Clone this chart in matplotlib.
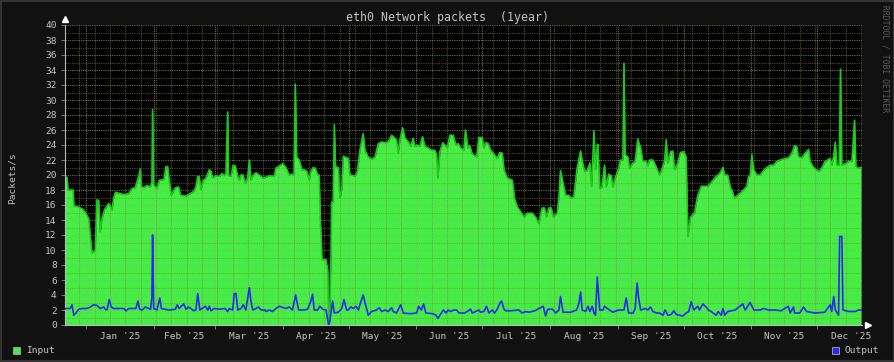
import numpy as np
import pandas as pd
import matplotlib
matplotlib.use("Agg")
import matplotlib.pyplot as plt
import matplotlib.dates as mdates
from matplotlib.patches import Rectangle
from matplotlib.ticker import MultipleLocator, NullFormatter

# time axis: one year ending 2025-12-21, values keyed by day offset from start
start = pd.Timestamp("2024-12-22 12:00")
span_days = 364

input_days = [0.1, 0.9, 1.4, 3.7, 4.1, 5.5, 7.8, 9.3, 10.8, 11.6, 12.3, 13.8, 14.6, 15.4, 16.1,
              16.9, 18.1, 20.0, 21.5, 22.2, 23.0, 26.8, 29.1, 30.6, 32.1, 32.9, 33.7, 34.4, 34.8,
              35.9, 37.4, 38.9, 39.7, 40.0, 40.5, 42.0, 43.1, 45.2, 46.1, 46.9, 47.6, 48.5, 50.4,
              51.9, 52.8, 55.3, 58.8, 59.8, 60.6, 61.3, 62.1, 63.2, 64.4, 65.9, 66.7, 67.4, 68.9,
              70.5, 71.7, 72.7, 73.5, 74.3, 74.7, 75.8, 76.8, 77.8, 78.9, 79.6, 80.4, 81.3, 82.3,
              83.4, 84.2, 84.9, 86.0, 87.2, 88.7, 90.3, 91.8, 93.3, 95.6, 96.3, 97.9, 99.4, 100.9,
              102.4, 103.7, 104.6, 105.2, 105.8, 107.0, 108.2, 109.3, 110.4, 111.6, 112.3, 113.4,
              114.3, 115.4, 116.1, 116.6, 117.4, 119.2, 120.0, 120.4, 120.8, 121.5, 121.8, 122.5,
              123.0, 123.6, 124.8, 125.6, 126.4, 127.1, 129.4, 130.1, 130.9, 132.4, 133.5, 134.7,
              136.2, 137.0, 138.5, 140.0, 141.6, 143.1, 144.6, 146.1, 147.6, 149.2, 150.7, 151.4,
              152.2, 153.0, 154.2, 155.3, 156.8, 157.9, 159.0, 159.8, 160.9, 162.1, 163.3, 164.4,
              165.9, 167.4, 168.9, 169.7, 170.3, 171.2, 172.5, 173.5, 174.6, 175.8, 177.3, 178.5,
              179.6, 180.7, 182.2, 182.9, 184.0, 184.9, 186.0, 188.0, 189.0, 190.5, 191.3, 192.1,
              193.2, 194.4, 195.9, 197.4, 198.6, 199.7, 200.5, 202.0, 204.3, 205.3, 206.5, 208.1,
              209.6, 211.1, 213.4, 214.9, 216.4, 217.9, 219.0, 219.9, 221.0, 222.1, 223.0, 224.8,
              225.6, 226.3, 227.5, 228.6, 230.1, 230.9, 232.4, 233.9, 235.5, 236.2, 237.3, 238.5,
              239.7, 240.5, 241.6, 242.3, 243.1, 243.4, 244.2, 245.2, 246.4, 247.2, 248.3, 249.5,
              250.2, 251.3, 252.8, 253.7, 254.8, 255.3, 255.8, 257.1, 257.8, 259.4, 260.4, 261.6,
              262.9, 263.9, 265.4, 266.2, 267.0, 268.5, 270.0, 271.5, 272.3, 273.8, 274.6, 275.3,
              276.6, 277.6, 278.4, 279.9, 281.1, 282.6, 283.7, 284.5, 285.7, 287.5, 289.0, 290.6,
              293.6, 294.9, 295.9, 297.4, 299.0, 300.5, 301.3, 302.7, 304.0, 304.6, 305.8, 306.8,
              308.4, 309.9, 311.4, 312.2, 312.9, 313.7, 314.5, 316.0, 317.5, 319.0, 320.5, 322.1,
              323.6, 325.1, 326.6, 328.9, 330.4, 332.0, 333.2, 334.2, 335.0, 336.5, 338.0, 339.6,
              340.3, 341.9, 343.4, 344.5, 345.7, 347.2, 348.8, 349.5, 350.2, 351.0, 351.8, 352.5,
              353.6, 354.2, 354.8, 356.3, 357.9, 359.4, 360.6, 361.2, 362.1, 363.6]
input_vals = [19.7, 19.7, 18.0, 18.0, 15.8, 15.8, 15.5, 15.0, 14.2, 11.8, 9.6, 9.9, 16.7, 16.6, 12.4,
              14.2, 15.4, 16.2, 15.3, 16.9, 17.7, 17.4, 17.5, 18.2, 18.3, 19.1, 19.8, 20.8, 18.5,
              18.3, 18.6, 18.4, 19.0, 28.7, 18.7, 18.2, 19.3, 19.4, 21.1, 21.1, 19.3, 17.3, 18.3,
              18.4, 17.3, 17.2, 17.8, 18.4, 19.8, 19.8, 18.0, 19.3, 19.6, 20.7, 20.5, 19.6, 19.9,
              19.8, 20.2, 19.9, 20.2, 28.4, 19.9, 19.8, 21.3, 21.2, 19.8, 19.3, 20.0, 20.0, 18.9,
              19.6, 22.0, 19.3, 20.0, 20.3, 20.0, 19.6, 19.7, 19.9, 19.8, 20.9, 21.2, 21.5, 21.0,
              20.0, 20.1, 20.0, 32.1, 22.4, 22.0, 20.7, 20.7, 20.5, 19.3, 20.5, 21.0,
              20.9, 20.0, 20.0, 14.2, 8.7, 8.7, 7.3, 0.0, 0.0, 9.3, 16.4, 16.4,
              26.7, 21.1, 21.0, 16.9, 18.0, 22.5, 22.2, 20.0, 20.0, 19.8, 20.4, 23.3,
              25.5, 23.3, 22.4, 22.1, 22.4, 24.2, 24.4, 24.3, 24.4, 25.3, 24.9, 24.7,
              22.9, 24.7, 26.3, 24.9, 24.4, 23.8, 24.9, 23.8, 24.0, 23.8, 25.1, 23.8,
              23.6, 23.3, 23.3, 22.7, 19.6, 23.1, 24.3, 24.0, 23.6, 25.3, 25.3, 24.0,
              24.2, 23.6, 23.3, 26.0, 23.6, 23.9, 22.8, 22.4, 25.0, 25.0, 23.6, 24.3,
              24.2, 23.3, 22.8, 22.2, 23.0, 22.9, 20.7, 19.6, 19.3, 16.9, 15.8, 15.1,
              14.4, 14.9, 14.9, 14.4, 13.5, 15.6, 15.6, 14.4, 15.6, 15.6, 14.4, 14.9,
              17.1, 20.6, 18.9, 17.3, 17.3, 16.9, 17.1, 20.9, 23.2, 21.9, 20.5, 20.6,
              21.6, 18.4, 25.9, 20.7, 24.0, 24.1, 18.2, 18.4, 21.3, 18.4, 20.1, 19.9,
              18.4, 19.6, 20.8, 22.0, 22.0, 34.9, 22.7, 22.4, 20.9, 21.6, 21.8, 24.8,
              23.6, 21.8, 21.8, 21.2, 22.0, 22.0, 21.1, 20.0, 20.5, 21.8, 24.7, 21.6,
              23.1, 23.2, 20.7, 21.6, 23.0, 23.1, 22.4, 11.8, 14.4, 14.9, 17.3, 18.5,
              18.5, 18.9, 19.3, 19.8, 20.2, 21.0, 20.0, 20.0, 18.2, 18.0, 16.9, 17.2,
              17.6, 18.0, 18.5, 19.8, 19.8, 22.7, 20.7, 20.0, 20.0, 20.6, 21.0, 21.3,
              21.3, 21.8, 22.0, 22.2, 22.3, 22.9, 23.9, 23.8, 22.4, 22.3, 22.9, 23.4,
              21.8, 21.0, 20.6, 20.5, 21.0, 21.8, 22.1, 22.2, 21.3, 22.4, 24.4, 21.3,
              21.3, 34.1, 21.3, 21.5, 21.8, 21.8, 27.3, 21.1, 20.9, 21.0]

output_days = [0.1, 2.4, 3.2, 4.0, 5.0, 6.3, 7.8, 10.0, 11.6, 13.1, 14.6, 16.1, 17.7, 18.4, 19.2,
               20.2, 21.1, 22.2, 26.8, 27.9, 29.1, 32.4, 33.3, 34.1, 35.2, 36.7, 39.1, 39.7, 40.0,
               40.5, 42.0, 43.3, 44.0, 47.4, 50.4, 51.3, 52.1, 54.2, 55.3, 56.5, 58.8, 59.8, 60.6,
               61.6, 64.1, 65.2, 65.9, 66.7, 68.2, 70.5, 73.1, 74.3, 75.0, 76.6, 77.3, 78.1, 78.9,
               80.4, 81.4, 82.6, 84.2, 84.9, 85.7, 87.2, 88.4, 89.5, 91.3, 91.8, 93.3, 94.8, 96.3,
               97.9, 100.9, 102.4, 103.9, 105.3, 106.7, 109.0, 110.8, 112.3, 113.1, 113.8, 115.4,
               116.4, 117.7, 119.2, 120.4, 121.0, 122.2, 123.0, 124.8, 126.4, 127.4, 128.6, 129.4,
               130.5, 131.7, 132.9, 134.0, 135.0, 136.2, 137.0, 138.5, 140.0, 142.3, 143.5, 144.6,
               146.1, 147.6, 149.2, 149.9, 151.4, 153.3, 154.5, 157.5, 160.6, 161.5, 162.7, 163.8,
               164.8, 168.2, 169.4, 170.3, 171.2, 172.8, 174.0, 175.0, 176.1, 177.6, 178.8, 180.0,
               182.6, 185.2, 186.0, 189.0, 189.8, 191.3, 192.5, 193.6, 195.1, 196.2, 197.4, 198.6,
               199.4, 200.5, 201.3, 203.6, 207.3, 208.8, 210.4, 211.9, 214.6, 218.4, 219.5, 220.5,
               222.7, 224.1, 225.6, 226.3, 227.5, 230.9, 233.7, 234.7, 235.5, 236.2, 237.8, 238.8,
               239.7, 240.8, 241.6, 242.3, 243.1, 244.2, 245.7, 246.4, 247.7, 250.2, 252.8, 255.3,
               256.3, 257.4, 259.5, 260.4, 261.3, 261.9, 262.9, 265.0, 266.2, 267.4, 268.5, 270.0,
               271.5, 273.1, 274.1, 275.3, 276.8, 278.1, 279.1, 282.2, 283.7, 284.9, 286.0, 287.2,
               289.0, 289.8, 291.3, 292.8, 293.9, 295.1, 297.4, 298.3, 299.7, 300.5, 301.3, 302.7,
               306.1, 309.5, 310.7, 312.9, 314.6, 317.5, 319.0, 321.3, 324.3, 327.1, 330.4, 331.2,
               332.7, 333.2, 335.6, 337.3, 338.7, 342.6, 347.0, 349.5, 350.2, 351.1, 351.8, 353.3,
               353.8, 354.8, 355.3, 357.9, 360.9, 362.4, 363.6]
output_vals = [2.2, 2.2, 2.7, 1.3, 1.6, 2.1, 2.2, 2.2, 2.4, 2.7, 2.6, 2.2, 2.4, 2.1, 2.0,
               3.4, 2.4, 2.2, 2.2, 1.9, 2.2, 2.2, 3.2, 2.1, 2.0, 2.4, 2.1, 3.8, 12.0,
               2.2, 2.0, 3.6, 2.2, 2.0, 2.1, 2.7, 2.2, 2.8, 2.1, 2.4, 1.9, 2.0, 4.2,
               2.0, 2.5, 2.0, 2.5, 1.9, 2.2, 2.1, 2.2, 1.8, 2.2, 2.0, 4.2, 4.2, 2.0,
               2.2, 2.7, 2.0, 5.0, 3.2, 2.0, 2.2, 2.4, 2.0, 2.0, 1.8, 2.0, 1.8, 2.2,
               2.5, 2.2, 2.4, 2.0, 4.0, 2.0, 2.0, 2.1, 3.2, 4.1, 2.0, 2.0,
               2.5, 2.1, 2.0, 0.0, 0.6, 3.2, 1.6, 1.7, 2.2, 3.4, 2.0, 2.0,
               2.4, 2.2, 2.5, 2.0, 3.0, 4.0, 3.0, 1.3, 1.8, 2.0, 2.3, 1.8,
               2.0, 1.8, 2.3, 1.8, 1.6, 2.7, 1.6, 1.5, 1.6, 2.5, 2.0, 2.8,
               1.6, 1.5, 1.3, 0.9, 1.3, 2.0, 1.6, 2.0, 1.8, 2.0, 2.0, 1.6,
               1.6, 2.1, 1.6, 2.0, 1.7, 1.8, 2.5, 1.6, 2.0, 1.6, 2.1, 2.9,
               3.2, 2.1, 1.9, 1.9, 2.0, 1.6, 1.8, 1.7, 1.9, 2.5, 1.2, 2.1,
               2.1, 1.6, 2.0, 3.8, 1.7, 1.7, 2.0, 2.9, 4.4, 2.0, 1.8, 2.5,
               1.8, 2.5, 1.6, 1.3, 6.4, 2.0, 2.0, 2.5, 2.2, 1.7, 2.0, 2.0,
               3.6, 1.6, 1.6, 2.2, 5.6, 3.8, 2.0, 2.2, 2.0, 2.4, 1.8, 1.6,
               1.6, 1.3, 2.0, 1.3, 1.4, 1.9, 1.4, 1.2, 1.6, 1.8, 3.1, 2.0,
               2.5, 2.0, 2.8, 2.4, 2.0, 1.8, 1.3, 1.8, 1.3, 2.2, 1.3, 1.8,
               2.0, 2.8, 2.0, 3.0, 2.0, 2.0, 2.2, 2.0, 2.0, 1.9, 2.5, 1.6,
               2.4, 1.6, 1.6, 2.4, 1.8, 1.6, 1.7, 2.7, 1.8, 3.8, 2.0, 1.3,
               11.8, 11.8, 2.0, 1.8, 1.8, 2.0, 2.0]

title = "eth0 Network packets  (1year)"
y_label = "Packets/s"
watermark = "RRDTOOL / TOBI OETIKER"
legend_labels = ["Input", "Output"]

BG = "#111111"
TXT = "#c4c4c4"
GREEN = "#44ee44"
BLUE = "#2a2aee"

W, H = 895, 362
fig = plt.figure(figsize=(W / 100, H / 100), dpi=100, facecolor=BG)
plt.rcParams["font.family"] = ["DejaVu Sans Mono"]

# plot area in pixels: x 65..862, y 25..325
ax = fig.add_axes([65 / W, (H - 325) / H, (862 - 65) / W, 300 / H])
ax.set_facecolor("#000000")

t_in = start + pd.to_timedelta(input_days, unit="D")
t_out = start + pd.to_timedelta(output_days, unit="D")

ax.fill_between(t_in, 0, input_vals, color=GREEN, linewidth=0, zorder=1)
ax.plot(t_in, input_vals, color="#1fc81f", linewidth=1.2, zorder=2)
ax.plot(t_out, output_vals, color=BLUE, linewidth=1.2, zorder=3)

ax.set_xlim(start, start + pd.Timedelta(days=span_days))
ax.set_ylim(0, 40)

# grid
ax.xaxis.set_major_locator(mdates.MonthLocator())
ax.xaxis.set_minor_locator(mdates.WeekdayLocator(byweekday=mdates.SU))
ax.xaxis.set_major_formatter(NullFormatter())
ax.yaxis.set_major_locator(MultipleLocator(2))
ax.yaxis.set_minor_locator(MultipleLocator(1))
ax.grid(which="major", color=(0.62, 0.68, 0.52), alpha=0.65, linestyle=(0, (1, 1)), linewidth=0.8)
ax.grid(which="minor", color=(0.55, 0.5, 0.2), alpha=0.6, linestyle=(0, (1, 1)), linewidth=0.8)

for s in ["top", "right"]:
    ax.spines[s].set_visible(False)
for s in ["left", "bottom"]:
    ax.spines[s].set_color("#bbbbbb")
    ax.spines[s].set_linewidth(0.8)

ax.tick_params(axis="y", which="major", colors="#888888", labelcolor=TXT, labelsize=6.8, length=3, width=0.6, pad=3)
ax.tick_params(axis="y", which="minor", length=0)
ax.tick_params(axis="x", which="major", colors="#888888", length=3, width=0.6)
ax.tick_params(axis="x", which="minor", length=0)

# month labels centred on each month
months = pd.date_range("2024-12-01", "2026-01-01", freq="MS")
x0, x1 = ax.get_xlim()
for m0, m1 in zip(months[:-1], months[1:]):
    mid = mdates.date2num(m0 + (m1 - m0) / 2)
    if x0 <= mid <= x1:
        ax.text(mid, -0.022, f"{m0:%b} '{m0:%y}", transform=ax.get_xaxis_transform(),
                ha="center", va="top", color=TXT, fontsize=6.8)

# axis arrows
ax.plot([0], [1.02], marker="^", color="white", markersize=4, transform=ax.transAxes, clip_on=False)
ax.plot([1.0075], [0], marker=">", color="white", markersize=4, transform=ax.transAxes, clip_on=False)

fig.text(448 / W, 1 - 17 / H, title, ha="center", va="center", color=TXT, fontsize=8.4)
fig.text(12 / W, 1 - 178 / H, y_label, ha="center", va="center", rotation=90, color=TXT, fontsize=6.8)
fig.text(885 / W, 1 - 5 / H, watermark, ha="center", va="top", rotation=270, color="#5c5c5c", fontsize=5.8)

# legend
for (px, label, col) in [(13, legend_labels[0], GREEN), (832, legend_labels[1], BLUE)]:
    fig.patches.append(Rectangle((px / W, 1 - 354 / H), 7 / W, 7 / H, transform=fig.transFigure,
                                 facecolor=col, edgecolor="#999999", linewidth=0.7))
    fig.text((px + 13) / W, 1 - 350.5 / H, label, ha="left", va="center", color=TXT, fontsize=6.8)

# outer frame
fig.patches.append(Rectangle((0, 0), 1, 1, transform=fig.transFigure, fill=False,
                             edgecolor="#333333", linewidth=3))

fig.savefig("out.png", dpi=100, facecolor=BG)
